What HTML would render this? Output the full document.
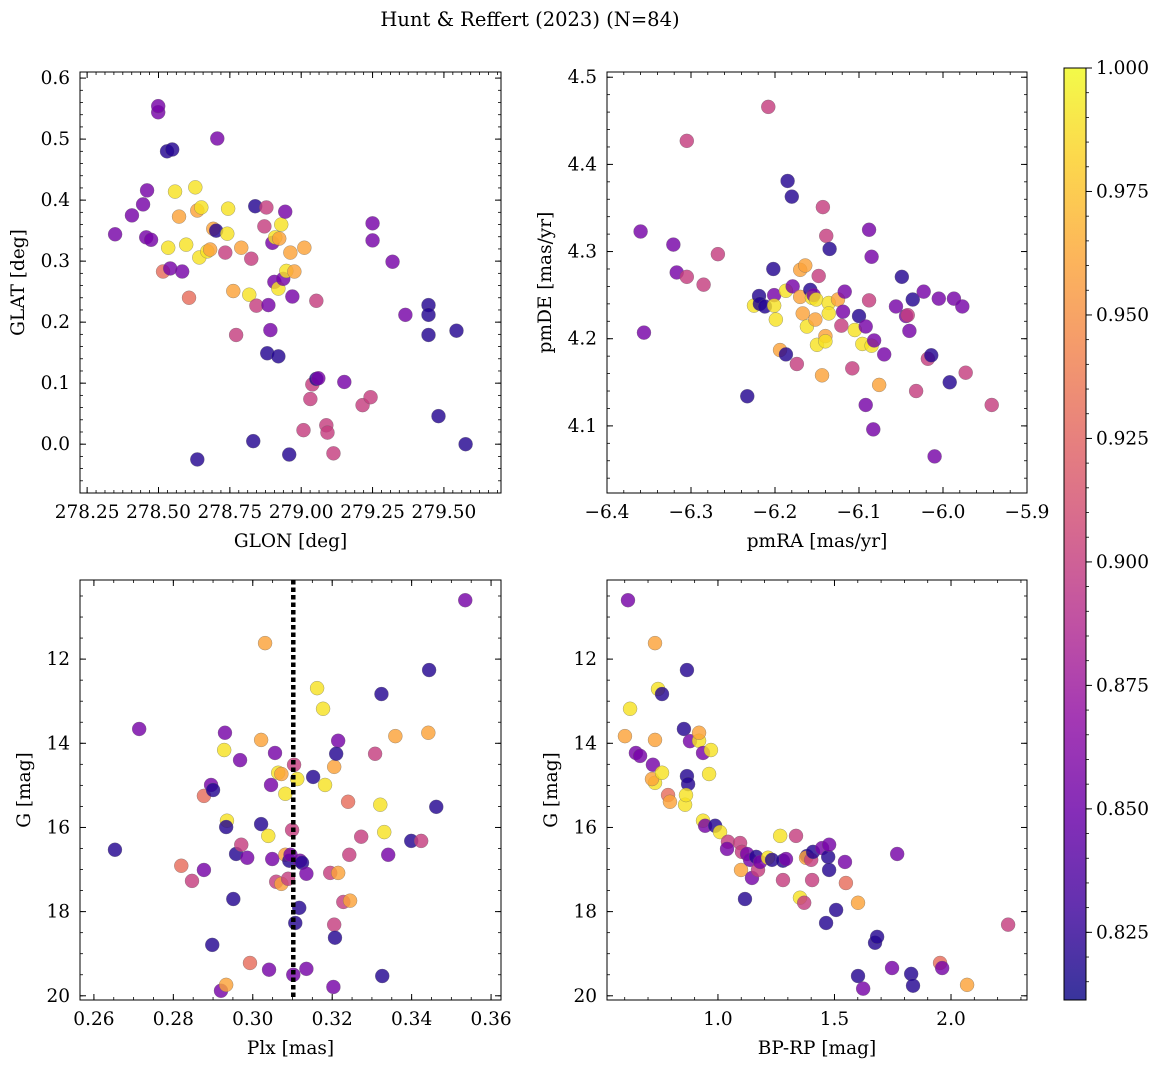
<!DOCTYPE html>
<html><head><meta charset="utf-8"><title>Hunt & Reffert (2023)</title>
<style>
html,body{margin:0;padding:0;background:#fff;}
svg{display:block;font-family:"DejaVu Serif","Liberation Serif",serif;}
</style></head>
<body>
<svg id="fig" width="1161" height="1068" viewBox="0 0 1161 1068" xmlns="http://www.w3.org/2000/svg">
<defs>
<linearGradient id="plasmaGrad" x1="0" y1="1" x2="0" y2="0">
<stop offset="0" stop-color="#0d0887"/><stop offset="0.1" stop-color="#41049d"/><stop offset="0.2" stop-color="#6a00a8"/><stop offset="0.3" stop-color="#8f0da4"/><stop offset="0.4" stop-color="#b12a90"/><stop offset="0.5" stop-color="#cc4778"/><stop offset="0.6" stop-color="#e16462"/><stop offset="0.7" stop-color="#f2844b"/><stop offset="0.8" stop-color="#fca636"/><stop offset="0.9" stop-color="#fcce25"/><stop offset="1" stop-color="#f0f921"/>
</linearGradient>
</defs>
<text x="530" y="26" text-anchor="middle" font-size="19.5">Hunt &amp; Reffert (2023) (N=84)</text>
</svg>
<script>
// probability codes: d=.82 p=.855 m=.9 s=.93 o=.96 y=.99
const tlGlon=[278.348,278.407,278.446,278.460,278.457,278.474,278.499,278.499,278.530,278.548,
278.516,278.541,278.583,278.607,278.534,278.558,278.572,278.597,278.629,278.636,
278.643,278.650,278.671,278.681,278.692,278.702,278.706,278.636,278.734,278.741,
278.744,278.762,278.772,278.790,278.818,278.825,278.839,278.843,278.832,278.871,
278.878,278.881,278.885,278.892,278.899,278.909,278.906,278.920,278.920,278.923,
278.930,278.937,278.944,278.948,278.962,278.958,278.969,278.976,279.011,279.032,
279.039,279.053,279.053,279.060,279.008,279.088,279.092,279.113,279.151,279.215,
279.243,279.250,279.250,279.320,279.365,279.446,279.446,279.446,279.481,279.544,279.576];
const tlGlat=[0.344,0.375,0.393,0.416,0.339,0.335,0.544,0.554,0.480,0.483,
0.283,0.288,0.283,0.240,0.322,0.414,0.373,0.327,0.421,0.383,
0.306,0.388,0.316,0.319,0.353,0.350,0.501,-0.025,0.314,0.345,
0.386,0.251,0.179,0.322,0.245,0.304,0.390,0.227,0.005,0.357,
0.388,0.149,0.228,0.187,0.330,0.339,0.266,0.255,0.144,0.337,
0.360,0.271,0.381,0.284,0.314,-0.017,0.242,0.283,0.322,0.074,
0.098,0.235,0.107,0.108,0.023,0.031,0.019,-0.015,0.102,0.064,
0.077,0.362,0.334,0.299,0.212,0.228,0.212,0.179,0.046,0.186,0.000];
const tlProb=[.855,.855,.855,.855,.855,.855,.855,.855,.82,.82,
.93,.855,.855,.93,.99,.99,.96,.99,.99,.96,
.99,.99,.99,.96,.96,.82,.855,.82,.9,.99,
.99,.96,.9,.96,.99,.9,.82,.9,.82,.9,
.9,.82,.855,.855,.855,.99,.855,.99,.82,.96,
.99,.855,.855,.99,.96,.82,.855,.96,.96,.9,
.9,.9,.82,.855,.9,.9,.9,.9,.855,.9,
.9,.855,.855,.855,.855,.82,.82,.82,.82,.82,.82];

const trPmra=[-6.360,-6.356,-6.321,-6.317,-6.305,-6.305,-6.285,-6.268,-6.233,-6.225,
-6.219,-6.218,-6.212,-6.202,-6.201,-6.201,-6.199,-6.194,-6.187,-6.187,
-6.185,-6.180,-6.179,-6.174,-6.170,-6.164,-6.170,-6.167,-6.162,-6.158,
-6.156,-6.154,-6.150,-6.152,-6.151,-6.148,-6.143,-6.144,-6.140,-6.140,
-6.139,-6.136,-6.136,-6.135,-6.125,-6.121,-6.119,-6.117,-6.108,-6.105,
-6.100,-6.096,-6.092,-6.092,-6.088,-6.088,-6.085,-6.085,-6.083,-6.082,
-6.076,-6.070,-6.056,-6.049,-6.044,-6.042,-6.040,-6.036,-6.032,-6.023,
-6.018,-6.014,-6.010,-6.005,-5.992,-5.987,-5.977,-5.973,-5.942,-6.208];
const trPmde=[4.323,4.207,4.308,4.276,4.427,4.271,4.262,4.297,4.134,4.238,
4.249,4.240,4.237,4.280,4.250,4.238,4.222,4.187,4.182,4.255,
4.381,4.363,4.260,4.171,4.279,4.284,4.248,4.229,4.214,4.256,
4.247,4.250,4.193,4.222,4.245,4.272,4.351,4.158,4.203,4.197,
4.318,4.241,4.229,4.303,4.245,4.215,4.231,4.254,4.166,4.210,
4.226,4.194,4.214,4.124,4.325,4.244,4.294,4.192,4.096,4.198,
4.147,4.182,4.237,4.271,4.226,4.227,4.209,4.245,4.140,4.254,
4.177,4.181,4.065,4.246,4.150,4.246,4.237,4.161,4.124,4.466];
const trProb=[.855,.855,.855,.855,.9,.9,.9,.9,.82,.99,
.82,.82,.82,.82,.855,.99,.99,.96,.82,.99,
.82,.82,.855,.9,.96,.96,.96,.96,.99,.82,
.99,.855,.99,.96,.99,.9,.9,.96,.96,.99,
.9,.99,.99,.82,.96,.9,.855,.855,.9,.99,
.82,.99,.855,.855,.855,.9,.855,.99,.855,.855,
.96,.855,.855,.82,.855,.9,.855,.82,.9,.855,
.9,.82,.855,.855,.82,.855,.855,.9,.9,.9];

const blPlx=[.2653,.2714,.2820,.2847,.2877,.2877,.2895,.2900,.2898,.2920,
.2933,.2928,.2930,.2935,.2933,.2951,.2958,.2968,.2971,.2986,
.2993,.3021,.3021,.3031,.3039,.3041,.3046,.3049,.3056,.3064,
.3072,.3059,.3072,.3082,.3082,.3089,.3092,.3095,.3099,.3104,
.3107,.3102,.3112,.3117,.3119,.3124,.3135,.3135,.3152,.3162,
.3177,.3182,.3195,.3205,.3215,.3210,.3205,.3207,.3203,.3215,
.3228,.3245,.3240,.3243,.3273,.3308,.3321,.3324,.3326,.3331,
.3341,.3359,.3399,.3424,.3442,.3444,.3462,.3535];
const blG=[16.53,13.66,16.91,17.27,17.01,15.25,14.99,15.11,18.79,19.88,
19.74,14.16,13.75,15.84,15.99,17.70,16.63,14.40,16.41,16.72,
19.22,15.92,13.92,11.62,16.20,19.38,14.99,16.75,14.23,14.70,
14.73,17.29,17.34,15.20,16.65,17.22,16.79,16.65,16.06,14.51,
18.27,19.50,14.85,17.91,16.79,16.84,17.10,19.36,14.80,12.69,
13.18,14.99,17.08,14.56,13.94,14.25,18.31,18.62,19.79,17.08,
17.77,17.74,15.39,16.65,16.22,14.25,15.46,12.83,19.53,16.11,
16.65,13.83,16.32,16.32,13.75,12.26,15.51,10.60];
const blProb=[.82,.855,.93,.9,.855,.93,.855,.82,.82,.855,
.96,.99,.855,.99,.82,.82,.82,.855,.9,.855,
.93,.82,.96,.96,.99,.855,.855,.855,.855,.99,
.96,.9,.96,.99,.96,.9,.82,.855,.9,.9,
.82,.855,.99,.82,.855,.82,.855,.855,.82,.99,
.99,.99,.9,.96,.855,.82,.9,.82,.855,.96,
.9,.96,.93,.9,.9,.9,.99,.82,.82,.99,
.855,.96,.82,.9,.96,.82,.82,.855];
const plxLine=[0.3102];

const brBprp=[.614,.623,.601,.648,.666,.730,.721,.730,.717,.743,
.760,.760,.786,.794,.730,.854,.867,.880,.859,.867,
.872,.863,.919,.919,.936,.936,.945,.970,.962,.988,
1.009,1.043,1.095,1.103,1.125,1.099,1.116,1.138,1.146,1.164,
1.172,1.181,1.215,1.232,1.267,1.279,1.292,1.279,1.335,1.352,
1.370,1.382,1.378,1.400,1.404,1.408,1.447,1.473,1.477,1.477,
1.507,1.464,1.545,1.549,1.601,1.601,1.623,1.674,1.683,1.747,
1.769,1.829,1.837,1.953,1.962,2.069,2.245,1.039];
const brG=[10.60,13.18,13.83,14.23,14.30,11.62,14.51,14.94,14.85,12.71,
12.83,14.70,15.23,15.39,13.92,13.66,12.26,13.95,15.46,14.78,
14.97,15.23,13.94,13.75,14.23,15.84,15.96,14.16,14.73,15.96,
16.11,16.34,16.37,16.58,16.63,17.01,17.70,16.77,17.20,16.70,
17.01,16.82,16.72,16.77,16.20,16.79,16.75,17.25,16.20,17.67,
17.79,16.68,16.72,16.77,17.25,16.58,16.49,16.70,16.41,17.01,
17.96,18.27,16.82,17.32,17.79,19.53,19.83,18.74,18.60,19.34,
16.63,19.48,19.76,19.22,19.34,19.74,18.31,16.51];
const brProb=[.855,.99,.96,.855,.855,.96,.855,.99,.96,.99,
.82,.99,.93,.96,.96,.82,.82,.855,.99,.82,
.82,.99,.99,.96,.855,.99,.855,.99,.99,.82,
.99,.9,.9,.9,.855,.96,.82,.855,.855,.82,
.9,.855,.99,.82,.99,.82,.855,.9,.9,.99,
.9,.82,.96,.9,.9,.82,.855,.82,.855,.82,
.82,.82,.855,.93,.96,.82,.855,.82,.82,.855,
.855,.82,.82,.93,.855,.96,.9,.855];

const cbTicks=[0.825,0.850,0.875,0.900,0.925,0.950,0.975,1.000];
const tlXTicks=[278.25,278.50,278.75,279.00,279.25,279.50];
const tlYTicks=[0.0,0.1,0.2,0.3,0.4,0.5,0.6];
const trXTicks=[-6.4,-6.3,-6.2,-6.1,-6.0,-5.9];
const trYTicks=[4.1,4.2,4.3,4.4,4.5];
const blXTicks=[0.26,0.28,0.30,0.32,0.34,0.36];
const gTicks=[12,14,16,18,20];
const brXTicks=[1.0,1.5,2.0];

const NS="http://www.w3.org/2000/svg";
const svg=document.getElementById('fig');
const VMIN=0.8113, VMAX=1.0;
const stops=[[13,8,135],[65,4,157],[106,0,168],[143,13,164],[177,42,144],[204,71,120],[225,100,98],[242,132,75],[252,166,54],[252,206,37],[240,249,33]];
function plasma(v){let t=Math.max(0,Math.min(1,(v-VMIN)/(VMAX-VMIN)))*10;let i=Math.min(9,Math.floor(t));let f=t-i;const a=stops[i],b=stops[i+1];return 'rgb('+a.map((c,k)=>Math.round(c+(b[k]-c)*f)).join(',')+')';}
function mk(tag,attrs,parent){const e=document.createElementNS(NS,tag);for(const k in attrs)e.setAttribute(k,attrs[k]);(parent||svg).appendChild(e);return e;}
function fmt(v,d){let s=v.toFixed(d);return s.replace('-','\u2212');}
const FS=18.5;

function panel(cfg){
  const g=mk('g',{});
  
  
  const L=cfg.x,T=cfg.y,W=cfg.w,H=cfg.h;
  const sx=v=>L+(v-cfg.xd[0])/(cfg.xd[1]-cfg.xd[0])*W;
  const sy=v=>cfg.inv? T+(v-cfg.yd[0])/(cfg.yd[1]-cfg.yd[0])*H : T+H-(v-cfg.yd[0])/(cfg.yd[1]-cfg.yd[0])*H;
  for(let v=Math.ceil(cfg.xd[0]/cfg.xm-1e-9)*cfg.xm; v<=cfg.xd[1]; v+=cfg.xm){const px=sx(v);
    const t1=mk('line',{x1:px,y1:T+H,x2:px,y2:T+H-3,stroke:'#000','stroke-width':0.8},g);
    const t2=mk('line',{x1:px,y1:T,x2:px,y2:T+3,stroke:'#000','stroke-width':0.8},g);}
  for(let v=Math.ceil(cfg.yd[0]/cfg.ym-1e-9)*cfg.ym; v<=cfg.yd[1]; v+=cfg.ym){const py=sy(v);
    const t1=mk('line',{x1:L,y1:py,x2:L+3,y2:py,stroke:'#000','stroke-width':0.8},g);
    const t2=mk('line',{x1:L+W,y1:py,x2:L+W-3,y2:py,stroke:'#000','stroke-width':0.8},g);}
  cfg.xt.forEach(v=>{const px=sx(v);
    const a=mk('line',{x1:px,y1:T+H,x2:px,y2:T+H-6,stroke:'#000','stroke-width':1},g);
    const b=mk('line',{x1:px,y1:T,x2:px,y2:T+6,stroke:'#000','stroke-width':1},g);
    const t=mk('text',{x:px,y:T+H+25,'text-anchor':'middle','font-size':FS},g);t.textContent=fmt(v,cfg.xdp);});
  cfg.yt.forEach(v=>{const py=sy(v);
    const a=mk('line',{x1:L,y1:py,x2:L+6,y2:py,stroke:'#000','stroke-width':1},g);
    const b=mk('line',{x1:L+W,y1:py,x2:L+W-6,y2:py,stroke:'#000','stroke-width':1},g);
    const t=mk('text',{x:L-10,y:py+6,'text-anchor':'end','font-size':FS},g);t.textContent=fmt(v,cfg.ydp);});
  const pts=mk('g',{},g);
  
  
  cfg.xs.forEach((xv,i)=>{
    const c=mk('circle',{cx:sx(xv),cy:sy(cfg.ys[i]),r:7,fill:plasma(cfg.ps[i]),'fill-opacity':0.82,stroke:'#666','stroke-opacity':0.6,'stroke-width':0.5},pts);
    
    
  });
  if(cfg.vline){cfg.vline.forEach(v=>{const l=mk('line',{x1:sx(v),y1:T,x2:sx(v),y2:T+H,stroke:'#000','stroke-width':4.5,'stroke-dasharray':'4.5,3'},g);
    
    });}
  const fr=mk('rect',{x:L,y:T,width:W,height:H,fill:'none',stroke:'#000','stroke-width':1},g);
  
  const xl=mk('text',{x:L+W/2,y:T+H+54,'text-anchor':'middle','font-size':FS},g);xl.textContent=cfg.xlab;
  
  const yl=mk('text',{x:0,y:0,'text-anchor':'middle','font-size':FS,transform:'translate('+(cfg.ylx)+','+(T+H/2)+') rotate(-90)'},g);yl.textContent=cfg.ylab;
  
}

panel({name:'glon-glat-panel',x:80,y:72,w:421,h:421,xd:[278.225,279.700],yd:[-0.080,0.610],xt:tlXTicks,yt:tlYTicks,xm:0.03125,ym:0.02,xdp:2,ydp:1,xs:tlGlon,ys:tlGlat,ps:tlProb,xlab:'GLON [deg]',ylab:'GLAT [deg]',ylx:24});
panel({name:'proper-motion-panel',x:607,y:72,w:420,h:421,xd:[-6.4,-5.9],yd:[4.023,4.506],xt:trXTicks,yt:trYTicks,xm:0.02,ym:0.02,xdp:1,ydp:1,xs:trPmra,ys:trPmde,ps:trProb,xlab:'pmRA [mas/yr]',ylab:'pmDE [mas/yr]',ylx:551});
panel({name:'parallax-magnitude-panel',x:80,y:580,w:421,h:420,xd:[0.2565,0.3625],yd:[10.12,20.1],inv:true,xt:blXTicks,yt:gTicks,xm:0.005,ym:0.5,xdp:2,ydp:0,xs:blPlx,ys:blG,ps:blProb,vline:plxLine,xlab:'Plx [mas]',ylab:'G [mag]',ylx:30});
panel({name:'color-magnitude-panel',x:607,y:580,w:420,h:420,xd:[0.524,2.326],yd:[10.12,20.1],inv:true,xt:brXTicks,yt:gTicks,xm:0.1,ym:0.5,xdp:1,ydp:0,xs:brBprp,ys:brG,ps:brProb,xlab:'BP-RP [mag]',ylab:'G [mag]',ylx:557});

const cb=mk('g',{});


const CT=68,CB=1000,CX=1064,CW=22;
const cbr=mk('rect',{x:CX,y:CT,width:CW,height:CB-CT,fill:'url(#plasmaGrad)','fill-opacity':0.82},cb);

const cy=v=>CB-(v-VMIN)/(VMAX-VMIN)*(CB-CT);
for(let v=0.815; v<=1.0001; v+=0.005){const l=mk('line',{x1:CX+CW,y1:cy(v),x2:CX+CW+3,y2:cy(v),stroke:'#000','stroke-width':0.8},cb);
  }
cbTicks.forEach(v=>{const l=mk('line',{x1:CX+CW,y1:cy(v),x2:CX+CW+6,y2:cy(v),stroke:'#000','stroke-width':1},cb);
  
  const t=mk('text',{x:CX+CW+10,y:cy(v)+6,'font-size':FS},cb);t.textContent=v.toFixed(3);
  });
const cbf=mk('rect',{x:CX,y:CT,width:CW,height:CB-CT,fill:'none',stroke:'#000','stroke-width':1},cb);

</script>
</body></html>
